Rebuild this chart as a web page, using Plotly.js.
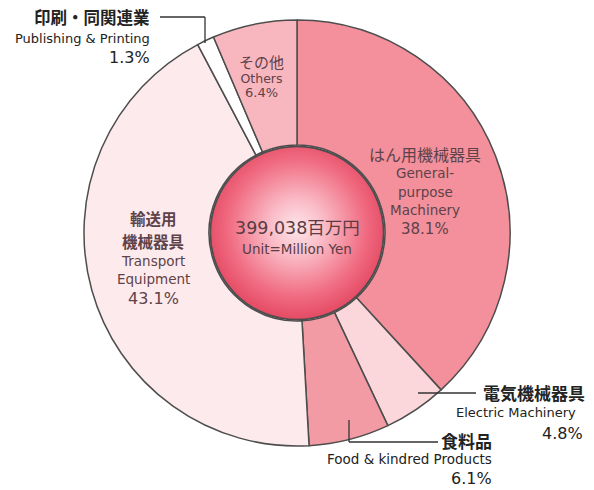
<!DOCTYPE html>
<html><head><meta charset="utf-8">
<script src="https://cdn.plot.ly/plotly-3.0.1.min.js"></script>
<style>html,body{margin:0;padding:0;background:#fff}</style>
</head><body><div id="chart" style="width:594px;height:490px"></div>
<script>
const categoriesJa = ["はん用機械器具", "電気機械器具", "食料品", "輸送用機械器具", "印刷・同関連業", "その他"];
const categoriesEn = ["General-purpose Machinery", "Electric Machinery", "Food & kindred Products", "Transport Equipment", "Publishing & Printing", "Others"];
const shares = [38.1, 4.8, 6.1, 43.1, 1.3, 6.4];
const sliceColors = ["#f3909b", "#fbd6da", "#f39ba4", "#fdeaec", "#ffffff", "#f8b6be"];
const totalText = "399,038百万円";
const unitText = "Unit=Million Yen";

const W = 594, H = 490;
const px = x => x / W, py = y => 1 - y / H;
const cx = 297, cy = 233, R = 213, r = 88;

const jp = '"Noto Sans CJK JP", "Noto Sans", sans-serif';
const en = '"DejaVu Sans", "Noto Sans CJK JP", sans-serif';
const inner = '#5e4249';

const trace = {
  type: 'pie', values: shares, labels: categoriesEn, sort: false, direction: 'clockwise', rotation: 0,
  hole: r / R, textinfo: 'none', hoverinfo: 'label+percent',
  marker: {colors: sliceColors, line: {color: '#4d4d4d', width: 1.5}},
  domain: {x: [px(cx - R), px(cx + R)], y: [py(cy + R), py(cy - R)]},
  showlegend: false
};

const svg = `<svg xmlns='http://www.w3.org/2000/svg' width='200' height='200' viewBox='0 0 200 200'><defs><radialGradient id='g' cx='50%' cy='47%' r='53%'><stop offset='0' stop-color='#fde6ea'/><stop offset='0.3' stop-color='#fabcc7'/><stop offset='0.75' stop-color='#f06b81'/><stop offset='1' stop-color='#e44a63'/></radialGradient></defs><circle cx='100' cy='100' r='98.5' fill='url(#g)' stroke='#4d4d4d' stroke-width='2'/></svg>`;
const img = 'data:image/svg+xml;charset=utf-8,' + encodeURIComponent(svg);

function ann(text, x, y, size, color, family, xanchor, bold) {
  return {text: bold ? '<b>' + text + '</b>' : text, x: px(x), y: py(y), xref: 'paper', yref: 'paper',
    xanchor: xanchor || 'center', yanchor: 'middle', showarrow: false, borderpad: 0,
    font: {size: size, color: color, family: family}};
}
const sp = (t, s, fam) => `<span style="font-size:${s}px;font-family:${fam.replace(/"/g, "'")}">${t}</span>`;

const othersBlock = Object.assign(ann(
  sp(categoriesJa[5], 15, jp) + '<br>' + sp("Others", 12.5, en) + '<br>' + sp(shares[5].toFixed(1) + "%", 13, en),
  261, 76, 11.2, inner, en), {align: 'center'});

const annotations = [
  // center
  ann(totalText, 297, 228, 17.5, '#5a3c42', en),
  ann(unitText, 297, 249, 13.5, '#5a3c42', en),
  othersBlock,
  // General-purpose
  ann(categoriesJa[0], 425, 154, 16, inner, jp),
  ann("General-", 425, 173, 13.5, inner, en),
  ann("purpose", 425, 192, 13.5, inner, en),
  ann("Machinery", 425, 210, 13.5, inner, en),
  ann(shares[0].toFixed(1) + "%", 425, 229, 15, inner, en),
  // Transport
  ann("輸送用", 153, 218, 15.5, inner, jp, 'center', true),
  ann("機械器具", 153, 241, 15.5, inner, jp, 'center', true),
  ann("Transport", 153, 260.5, 13.5, inner, en),
  ann("Equipment", 153, 279, 13.5, inner, en),
  ann(shares[3].toFixed(1) + "%", 153, 298.5, 16, inner, en),
  // Publishing
  ann(categoriesJa[4], 151, 17, 16.5, '#222', jp, 'right', true),
  ann(categoriesEn[4], 151, 39, 13, '#222', en, 'right'),
  ann(shares[4].toFixed(1) + "%", 151, 58, 16, '#222', en, 'right'),
  // Electric
  ann(categoriesJa[1], 586, 392, 17, '#222', jp, 'right', true),
  ann(categoriesEn[1], 577, 412, 13, '#222', en, 'right'),
  ann(shares[1].toFixed(1) + "%", 584, 433, 16, '#222', en, 'right'),
  // Food
  ann(categoriesJa[2], 493, 440, 17, '#222', jp, 'right', true),
  ann(categoriesEn[2], 493, 459, 13.5, '#222', en, 'right'),
  ann(shares[2].toFixed(1) + "%", 493, 478, 16, '#222', en, 'right')
];

const lineStyle = {color: '#333', width: 1.3};
function seg(x0, y0, x1, y1) {
  return {type: 'line', xref: 'paper', yref: 'paper', x0: px(x0), y0: py(y0), x1: px(x1), y1: py(y1), line: lineStyle};
}
const shapes = [
  seg(160, 17, 205, 17), seg(205, 17, 205, 43),
  seg(418, 393, 476, 393),
  seg(349, 420, 349, 442), seg(349, 442, 438, 442)
];

const layout = {
  width: W, height: H, margin: {l: 0, r: 0, t: 0, b: 0},
  paper_bgcolor: '#fff', plot_bgcolor: '#fff',
  annotations: annotations, shapes: shapes,
  images: [{source: img, xref: 'paper', yref: 'paper', x: px(cx - r), y: py(cy - r),
    sizex: px(2 * r), sizey: 2 * r / H, sizing: 'stretch', xanchor: 'left', yanchor: 'top', layer: 'above'}]
};

Plotly.newPlot('chart', [trace], layout, {displayModeBar: false, staticPlot: true});
</script></body></html>
